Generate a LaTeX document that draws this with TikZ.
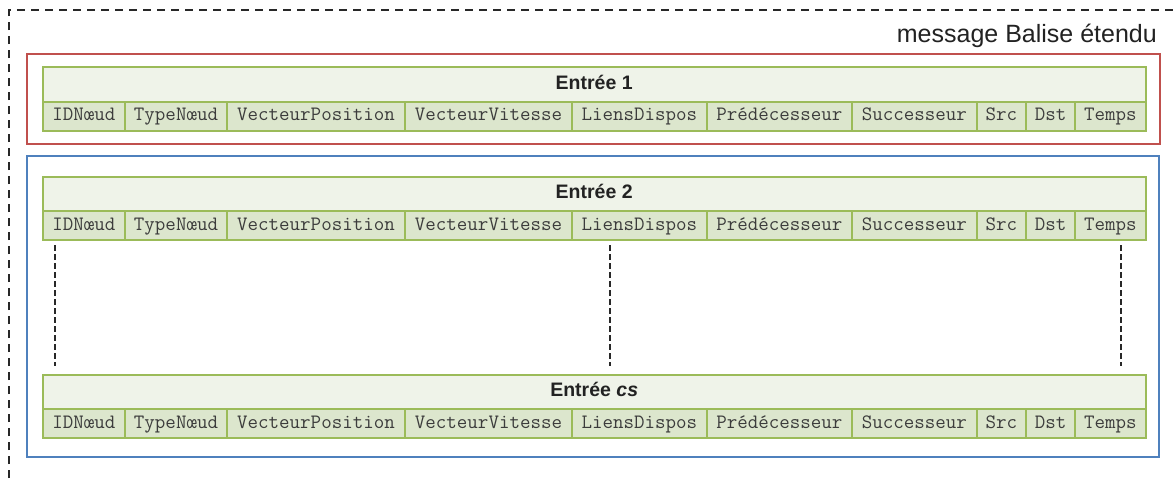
\documentclass[tikz,border=0pt]{standalone}
\usepackage{fontspec}
\setmainfont{Liberation Sans}
\definecolor{tgreen}{RGB}{155,187,89}
\definecolor{headfill}{RGB}{239,243,233}
\definecolor{cellfill}{RGB}{220,230,205}
\definecolor{celltext}{RGB}{60,60,60}
\definecolor{headtext}{RGB}{34,34,34}
\definecolor{redbox}{RGB}{192,80,77}
\definecolor{bluebox}{RGB}{79,129,189}
\definecolor{dashcol}{RGB}{40,40,40}
\tikzset{
  cellbox/.style={draw=tgreen, line width=2pt, fill=cellfill, inner sep=0pt, anchor=north west,
    font=\ttfamily\fontsize{20.4}{22}\selectfont, text=celltext, text height=12.5pt, text depth=3.5pt},
  headbox/.style={draw=tgreen, line width=2pt, fill=headfill, inner sep=0pt, anchor=north west,
    font=\bfseries\fontsize{19.5}{22}\selectfont, text=headtext, text height=14pt, text depth=4pt},
  groupbox/.style={line width=2pt},
  outerdash/.style={draw=dashcol, line width=2pt, dash pattern=on 8pt off 6pt},
  gapdash/.style={draw=dashcol, line width=2pt, dash pattern=on 6pt off 3pt}
}
\newcommand\entrytable[3]{%
  \node[headbox, minimum width=1103pt, minimum height=34.5pt] (#1h) at (41.7,#2) {#3};
  \foreach \a/\b/\t [count=\i] in {41.7/124/IDNœud, 124/226/TypeNœud, 226/404/VecteurPosition,
      404/571/VecteurVitesse, 571/705.7/LiensDispos, 705.7/851/Prédécesseur, 851/975.7/Successeur,
      975.7/1025/Src, 1025/1074/Dst, 1074/1144.7/Temps}{%
    \pgfmathsetmacro\w{\b-\a}%
    \node[cellbox, minimum width=\w pt, minimum height=29pt] (#1c\i) at (\a,#2+34.5) {\t};
  }%
}
\begin{document}
\begin{tikzpicture}[x=1pt,y=-1pt]
  \clip (0,0) rectangle (1176,479);
  \fill[white] (0,0) rectangle (1176,479);
  % outer dashed frame
  \draw[outerdash] (9,492) -- (9,10) -- (1190,10);
  \node[anchor=base east, inner sep=0pt, font=\fontsize{25}{28}\selectfont, text=headtext] (title) at (1157,42) {message Balise étendu};
  % group boxes
  \draw[groupbox, draw=redbox] (27.3,54) rectangle (1160,144);
  \draw[groupbox, draw=bluebox] (27.3,155.7) rectangle (1159,456.7);
  % tables
  \entrytable{ea}{66}{Entrée 1}
  \entrytable{eb}{175.5}{Entrée 2}
  \entrytable{ec}{373.5}{Entrée \textit{cs}}
  % gap lines
  \coordinate (g1t) at (55,245);  \coordinate (g1b) at (55,366);
  \coordinate (g2t) at (610,245); \coordinate (g2b) at (610,366);
  \coordinate (g3t) at (1121,245); \coordinate (g3b) at (1121,366);
  \draw[gapdash] (g1t) -- (g1b);
  \draw[gapdash] (g2t) -- (g2b);
  \draw[gapdash] (g3t) -- (g3b);
\end{tikzpicture}
\end{document}
